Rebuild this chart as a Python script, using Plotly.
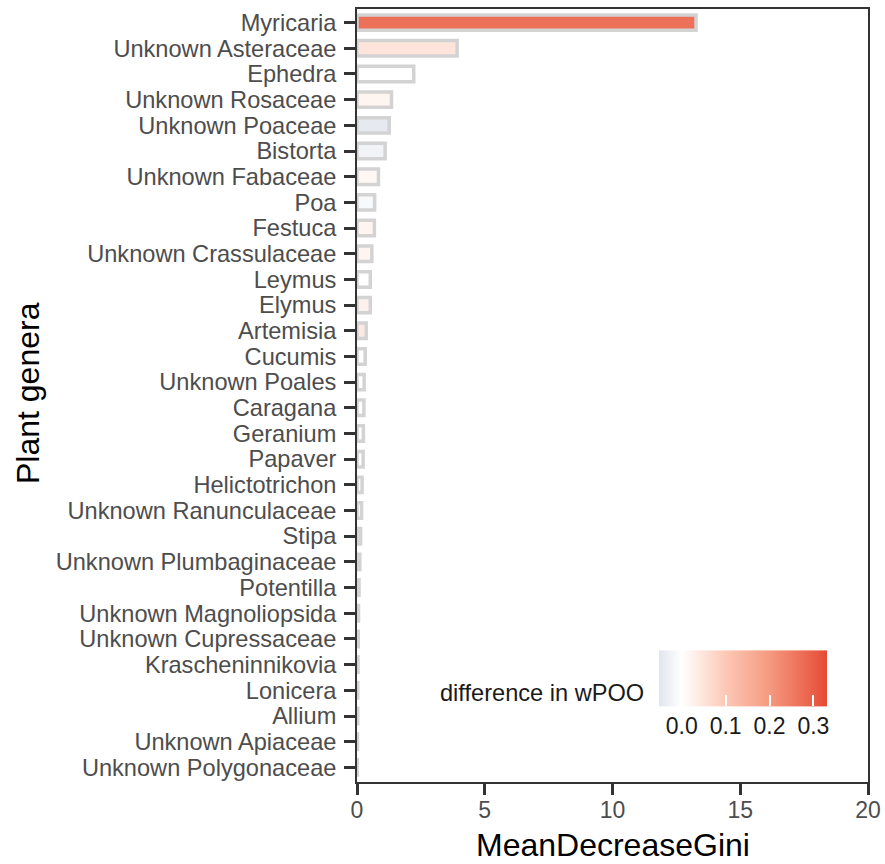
import plotly.graph_objects as go

genera = ["Myricaria", "Unknown Asteraceae", "Ephedra", "Unknown Rosaceae", "Unknown Poaceae",
          "Bistorta", "Unknown Fabaceae", "Poa", "Festuca", "Unknown Crassulaceae", "Leymus",
          "Elymus", "Artemisia", "Cucumis", "Unknown Poales", "Caragana", "Geranium", "Papaver",
          "Helictotrichon", "Unknown Ranunculaceae", "Stipa", "Unknown Plumbaginaceae",
          "Potentilla", "Unknown Magnoliopsida", "Unknown Cupressaceae", "Krascheninnikovia",
          "Lonicera", "Allium", "Unknown Apiaceae", "Unknown Polygonaceae"]
gini = [13.27, 3.92, 2.22, 1.35, 1.26, 1.10, 0.84, 0.69, 0.68, 0.58, 0.52, 0.52, 0.36, 0.32,
        0.28, 0.27, 0.25, 0.24, 0.20, 0.18, 0.14, 0.11, 0.08, 0.06, 0.05, 0.04, 0.03, 0.03,
        0.02, 0.01]
diff_wpoo = [0.27, 0.05, 0.0, 0.02, -0.045, -0.025, 0.015, -0.012, 0.02, 0.018, 0.0, 0.025,
             0.04, 0.0, 0.0, 0.0, 0.0, 0.0, 0.0, 0.0, 0.0, 0.0, 0.0, 0.0, 0.0, 0.0, 0.0, 0.0,
             0.0, 0.0]
cb_ticks = [0.0, 0.1, 0.2, 0.3]
x_ticks = [0, 5, 10, 15, 20]
cmin, cmax = -0.052, 0.331

def pos(v):
    return (v - cmin) / (cmax - cmin)

colorscale = [[0.0, "#E2E5EE"], [pos(0.0), "#FFFFFF"], [pos(0.1), "#FCC8B6"],
              [pos(0.2), "#F59A80"], [pos(0.3), "#EA5E47"], [1.0, "#E34A33"]]

W, H = 885, 864
L, R, T, B = 357, 17, 9, 82
pw, ph = W - L - R, H - T - B

fig = go.Figure(go.Bar(
    x=gini, y=genera, orientation="h", width=0.6,
    marker=dict(color=diff_wpoo, colorscale=colorscale, cmin=cmin, cmax=cmax,
                line=dict(color="#D3D3D3", width=3.5),
                showscale=True,
                colorbar=dict(orientation="h", lenmode="pixels", len=168,
                              thicknessmode="pixels", thickness=56,
                              x=(743 - L) / pw, xanchor="center",
                              y=(H - B - 751) / ph, yanchor="bottom", ypad=0, xpad=0,
                              outlinewidth=0, tickvals=cb_ticks,
                              ticktext=[f"{t:.1f}" for t in cb_ticks],
                              ticks="inside", ticklen=11, tickwidth=1.5, tickcolor="white",
                              tickfont=dict(size=23, color="#1A1A1A"))),
))

fig.add_annotation(text="difference in wPOO", xref="paper", yref="paper",
                   x=(646 - L) / pw, y=(H - B - 693) / ph, xanchor="right", yanchor="middle",
                   showarrow=False, font=dict(size=23.6, color="#1A1A1A"))
fig.add_annotation(text="Plant genera", xref="paper", yref="paper", textangle=-90,
                   x=(28 - L) / pw, y=(H - B - 393) / ph, xanchor="center", yanchor="middle",
                   showarrow=False, font=dict(size=32, color="#000000"))
fig.add_annotation(text="MeanDecreaseGini", xref="paper", yref="paper",
                   x=(613 - L) / pw, y=(H - B - 845) / ph, xanchor="center", yanchor="middle",
                   showarrow=False, font=dict(size=32, color="#000000"))

fig.update_layout(
    width=W, height=H, margin=dict(l=L, r=R, t=T, b=B, autoexpand=False),
    paper_bgcolor="white", plot_bgcolor="white",
    font=dict(family="Liberation Sans, Arial, sans-serif"),
    showlegend=False,
    xaxis=dict(range=[0, 20], tickmode="array", tickvals=x_ticks, showgrid=False, zeroline=False,
               showline=True, linecolor="#333333", linewidth=1.8, mirror=True,
               ticks="outside", ticklen=11, tickwidth=3, tickcolor="#333333",
               ticklabelstandoff=-5, automargin=False,
               tickfont=dict(size=23, color="#4D4D4D")),
    yaxis=dict(categoryorder="array", categoryarray=genera, range=[29.57, -0.53],
               tickmode="array", tickvals=genera, automargin=False,
               showgrid=False, zeroline=False,
               showline=True, linecolor="#333333", linewidth=1.8, mirror=True,
               ticks="outside", ticklen=11, tickwidth=3, tickcolor="#333333",
               ticklabelstandoff=3,
               tickfont=dict(size=23.6, color="#4D4D4D")),
)

fig.write_html("out.html")
